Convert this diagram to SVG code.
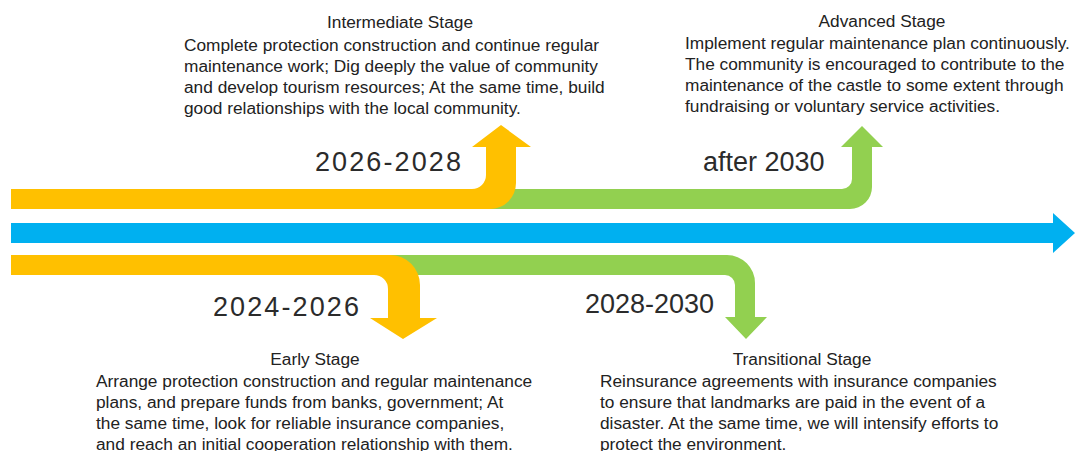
<svg xmlns="http://www.w3.org/2000/svg" width="1076" height="451" viewBox="0 0 1076 451">
  <style>
    .body { font-family: "Liberation Sans", Arial, sans-serif; font-size: 17.3px; fill: #222222; }
    .title { text-anchor: middle; }
    .year { font-family: "Liberation Sans", Arial, sans-serif; font-size: 27px; fill: #2b2b2b; }
    .spaced { letter-spacing: 2.1px; }
    .orange { fill: #FFC000; }
    .green { fill: #92D050; }
    .blue { fill: #00B0F0; }
  </style>
  <rect width="1076" height="451" fill="#ffffff"/>

  <!-- timeline bands and bent arrows -->
  <g id="connectors">
    <path id="band-advanced" class="green" d="M440,189 H842 A10,10 0 0 0 852,179 V147 H841 L862,126 L883,147 H872 V187 A22,22 0 0 1 850,209 H440 Z"/>
    <path id="band-intermediate" class="orange" d="M11,189 H472 A14,14 0 0 0 486,175 V147 H472 L501,125 L531,147 H516 V183 A26,26 0 0 1 490,209 H11 Z"/>
    <path id="timeline" class="blue" d="M11,223 H1053 V213 L1075,233 L1053,253 V243 H11 Z"/>
    <path id="band-transitional" class="green" d="M360,255 H727 A28,28 0 0 1 755,283 V317 H767 L746,339 L725,317 H735 V285 A10,10 0 0 0 725,275 H360 Z"/>
    <path id="band-early" class="orange" d="M11,255 H390 A30,30 0 0 1 420,285 V318 H437 L403,339 L370,318 H388 V289 A14,14 0 0 0 374,275 H11 Z"/>
  </g>

  <!-- period labels -->
  <g id="years">
    <text class="year spaced" x="315" y="171">2026-2028</text>
    <text class="year" x="703" y="171">after 2030</text>
    <text class="year spaced" x="213" y="316">2024-2026</text>
    <text class="year" x="585" y="313">2028-2030</text>
  </g>

  <g id="intermediate-stage" class="body">
    <text class="title" x="400" y="28">Intermediate Stage</text>
    <text x="184" y="51">Complete protection construction and continue regular</text>
    <text x="184" y="72">maintenance work; Dig deeply the value of community</text>
    <text x="184" y="93">and develop tourism resources; At the same time, build</text>
    <text x="184" y="114">good relationships with the local community.</text>
  </g>

  <g id="advanced-stage" class="body">
    <text class="title" x="882" y="27">Advanced Stage</text>
    <text x="685" y="49">Implement regular maintenance plan continuously.</text>
    <text x="685" y="70">The community is encouraged to contribute to the</text>
    <text x="685" y="91">maintenance of the castle to some extent through</text>
    <text x="685" y="112">fundraising or voluntary service activities.</text>
  </g>

  <g id="early-stage" class="body">
    <text class="title" x="315" y="365">Early Stage</text>
    <text x="96" y="387">Arrange protection construction and regular maintenance</text>
    <text x="96" y="408">plans, and prepare funds from banks, government; At</text>
    <text x="96" y="429">the same time, look for reliable insurance companies,</text>
    <text x="96" y="450">and reach an initial cooperation relationship with them.</text>
  </g>

  <g id="transitional-stage" class="body">
    <text class="title" x="802" y="365">Transitional Stage</text>
    <text x="600" y="387">Reinsurance agreements with insurance companies</text>
    <text x="600" y="408">to ensure that landmarks are paid in the event of a</text>
    <text x="600" y="429">disaster. At the same time, we will intensify efforts to</text>
    <text x="600" y="450">protect the environment.</text>
  </g>
</svg>
